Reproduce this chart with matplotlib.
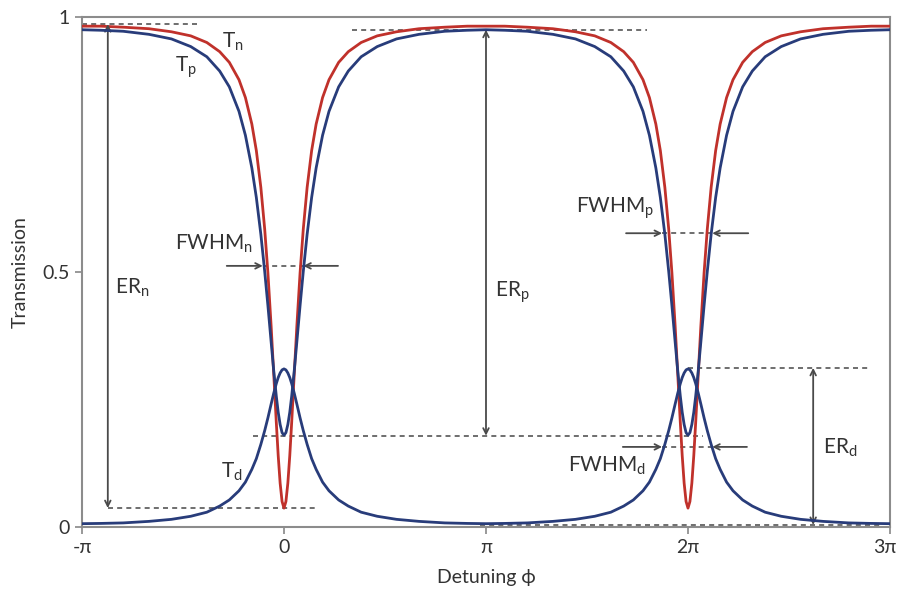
import numpy as np
import matplotlib
matplotlib.use('Agg')
import matplotlib.pyplot as plt
from matplotlib.transforms import ScaledTranslation

plt.rcParams['font.family'] = ['Lato', 'DejaVu Sans']
plt.rcParams['mathtext.fontset'] = 'custom'
plt.rcParams['mathtext.rm'] = 'Lato'
plt.rcParams['mathtext.it'] = 'Lato'

# detuning offset from a resonance (rad), half period
offsets = [0, 0.03, 0.06, 0.09, 0.12, 0.16, 0.20, 0.25, 0.30, 0.36, 0.43, 0.50,
           0.60, 0.70, 0.85, 1.00, 1.20, 1.45, 1.75, 2.10, 2.50, 2.85, np.pi]
tn_half = [0.037, 0.050, 0.086, 0.140, 0.206, 0.301, 0.394, 0.498, 0.584, 0.666,
           0.738, 0.790, 0.842, 0.877, 0.911, 0.932, 0.950, 0.963, 0.971, 0.977,
           0.980, 0.982, 0.982]
tp_half = [0.180, 0.185, 0.201, 0.225, 0.257, 0.307, 0.363, 0.434, 0.501, 0.574,
           0.646, 0.704, 0.768, 0.815, 0.863, 0.894, 0.922, 0.942, 0.957, 0.966,
           0.972, 0.974, 0.975]
td_half = [0.310, 0.308, 0.302, 0.293, 0.281, 0.262, 0.241, 0.214, 0.189, 0.162,
           0.134, 0.113, 0.088, 0.071, 0.053, 0.041, 0.029, 0.021, 0.015, 0.011,
           0.008, 0.007, 0.0065]
resonances = [0, 2 * np.pi]

xticks = [-np.pi, 0, np.pi, 2 * np.pi, 3 * np.pi]
xticklabels = ['-π', '0', 'π', '2π', '3π']
yticks = [0, 0.5, 1]
yticklabels = ['0', '0.5', '1']

RED = '#c0312b'
BLUE = '#283c7a'
GREY = '#4a4a4a'


def unfold(half):
    # mirror the half period and repeat it around each resonance
    off = np.asarray(offsets)
    h = np.asarray(half)
    px = np.concatenate([-off[::-1], off[1:]])
    pv = np.concatenate([h[::-1], h[1:]])
    xs, vs = [], []
    for i, c in enumerate(resonances):
        if i < len(resonances) - 1:
            xs.append(px[:-1] + c)
            vs.append(pv[:-1])
        else:
            xs.append(px + c)
            vs.append(pv)
    return np.concatenate(xs), np.concatenate(vs)


fig = plt.figure(figsize=(8.97, 5.90), dpi=100)
ax = fig.add_axes([0.0914, 0.1068, 0.9008, 0.8644])

phi, tn = unfold(tn_half)
_, tp = unfold(tp_half)
_, td = unfold(td_half)

ax.plot(phi, tn, color=RED, lw=2.0, zorder=3)
ax.plot(phi, tp, color=BLUE, lw=2.0, zorder=4)
ax.plot(phi, td, color=BLUE, lw=2.0, zorder=4)

ax.set_xlim(-np.pi, 3 * np.pi)
ax.set_ylim(0, 1)
ax.set_xticks(xticks)
ax.set_xticklabels(xticklabels)
ax.set_yticks(yticks)
ax.set_yticklabels(yticklabels)
ax.tick_params(labelsize=14, colors='#333333', length=5, width=1.2, color='#888888')
last = ax.get_xticklabels()[-1]
last.set_horizontalalignment('right')
last.set_transform(last.get_transform() + ScaledTranslation(6 / 100, 0, fig.dpi_scale_trans))
for s in ax.spines.values():
    s.set_color('#8c8c8c')
    s.set_linewidth(1.5)

# dashed guide lines
dash = dict(color='#555555', lw=1.2, ls=(0, (3, 2.5)), zorder=2)
ax.plot([-np.pi, -1.35], [0.986, 0.986], **dash)
ax.plot([1.06, 5.65], [0.975, 0.975], **dash)
ax.plot([-2.74, 0.50], [0.037, 0.037], **dash)
ax.plot([-0.48, 6.52], [0.179, 0.179], **dash)
ax.plot([2 * np.pi, 9.11], [0.312, 0.312], **dash)
ax.plot([3.05, 9.27], [0.004, 0.004], **dash)
ax.plot([-0.33, 0.30], [0.512, 0.512], **dash)
ax.plot([5.88, 6.66], [0.576, 0.576], **dash)
ax.plot([5.88, 6.66], [0.157, 0.157], **dash)

# extinction ratio arrows
arr2 = dict(arrowstyle='<->', color=GREY, lw=1.3, shrinkA=0, shrinkB=0)
ax.annotate('', xy=(-2.74, 0.986), xytext=(-2.74, 0.037), arrowprops=arr2)
ax.annotate('', xy=(np.pi, 0.975), xytext=(np.pi, 0.179), arrowprops=arr2)
ax.annotate('', xy=(8.23, 0.312), xytext=(8.23, 0.004), arrowprops=arr2)

# FWHM arrows
arr1 = dict(arrowstyle='->', color=GREY, lw=1.3, shrinkA=0, shrinkB=0)
ax.annotate('', xy=(-0.33, 0.512), xytext=(-0.89, 0.512), arrowprops=arr1)
ax.annotate('', xy=(0.30, 0.512), xytext=(0.84, 0.512), arrowprops=arr1)
ax.annotate('', xy=(5.88, 0.576), xytext=(5.32, 0.576), arrowprops=arr1)
ax.annotate('', xy=(6.66, 0.576), xytext=(7.22, 0.576), arrowprops=arr1)
ax.annotate('', xy=(5.88, 0.157), xytext=(5.27, 0.157), arrowprops=arr1)
ax.annotate('', xy=(6.66, 0.157), xytext=(7.20, 0.157), arrowprops=arr1)

lab = dict(fontsize=15, color='#333333', ha='center', va='center', zorder=6)
ax.text(-0.79, 0.951, r'$\mathrm{T_n}$', **lab)
ax.text(-1.52, 0.902, r'$\mathrm{T_p}$', **lab)
ax.text(-0.81, 0.108, r'$\mathrm{T_d}$', **lab)
ax.text(-2.36, 0.469, r'$\mathrm{ER_n}$', **lab)
ax.text(3.55, 0.461, r'$\mathrm{ER_p}$', **lab)
ax.text(8.65, 0.155, r'$\mathrm{ER_d}$', **lab)
ax.text(-1.09, 0.555, r'$\mathrm{FWHM_n}$', **lab)
ax.text(5.15, 0.625, r'$\mathrm{FWHM_p}$', **lab)
ax.text(5.02, 0.120, r'$\mathrm{FWHM_d}$', **lab)

fig.text(20 / 897, 1 - 272 / 590, 'Transmission', rotation=90,
         ha='center', va='center', fontsize=14, color='#333333')
fig.text(486 / 897, 1 - 577 / 590, 'Detuning ϕ',
         ha='center', va='center', fontsize=14, color='#333333')

fig.savefig('out.png', dpi=100)
